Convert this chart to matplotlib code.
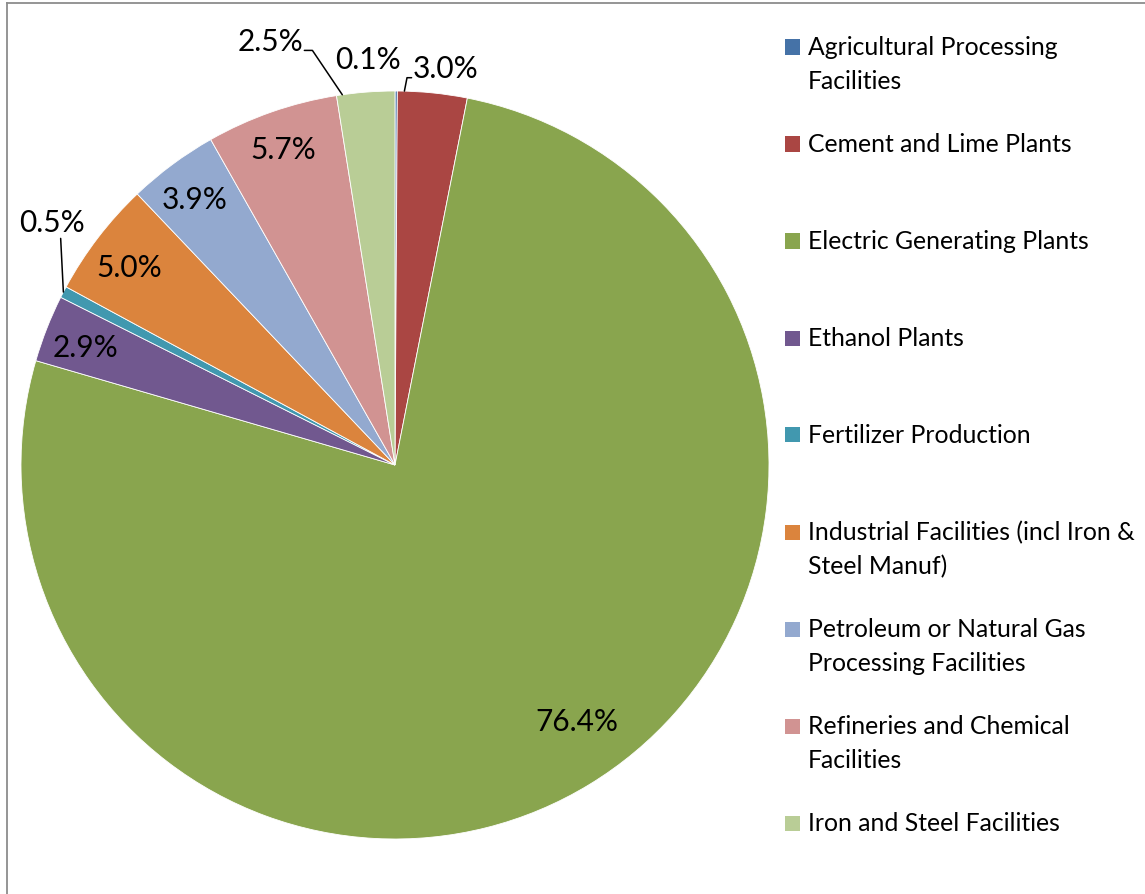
import numpy as np
import matplotlib.pyplot as plt
from matplotlib.patches import Rectangle
from matplotlib.lines import Line2D

plt.rcParams['font.family'] = ['Lato', 'DejaVu Sans']

categories = ['Agricultural Processing\nFacilities',
              'Cement and Lime Plants',
              'Electric Generating Plants',
              'Ethanol Plants',
              'Fertilizer Production',
              'Industrial Facilities (incl Iron &\nSteel Manuf)',
              'Petroleum or Natural Gas\nProcessing Facilities',
              'Refineries and Chemical\nFacilities',
              'Iron and Steel Facilities']
shares = [0.1, 3.0, 76.4, 2.9, 0.5, 5.0, 3.9, 5.7, 2.5]
colors = ['#4572A7', '#AA4643', '#89A54E', '#71588F', '#4198AF',
          '#DB843D', '#93A9CF', '#D19392', '#B9CD96']

W, H = 1145, 894
fig = plt.figure(figsize=(W / 100, H / 100), dpi=100)

# pie: centre (395, 465) px, radius 374 px
cx, cy, r = 395, 465, 374
ax = fig.add_axes([(cx - r) / W, (H - cy - r) / H, 2 * r / W, 2 * r / H])
wedges, _ = ax.pie(shares, colors=colors, startangle=90, counterclock=False,
                   wedgeprops=dict(edgecolor='white', linewidth=0.6))
ax.set_xlim(-1, 1)
ax.set_ylim(-1, 1)
ax.axis('off')

def fmt(v):
    return f'{v:.1f}%'

label_fs = 21.5
# labels inside the slices: (radial distance, angle shift in degrees)
inside = {2: (0.843, 4.0), 3: (0.886, 0.7), 5: (0.884, 0.8),
          6: (0.889, 0.6), 7: (0.894, 0.3)}
# labels outside: text position in data units, anchor fraction along the
# wedge arc, relpos on the text box, connection style
outside = {
    0: dict(xy=(-0.072, 1.083), frac=0.5, rel=None, cs=None),
    1: dict(xy=(0.136, 1.058), frac=0.9, rel=(0.0, 0.2), cs='angle,angleA=180,angleB=79,rad=0'),
    8: dict(xy=(-0.334, 1.131), frac=0.9, rel=(1.0, 0.2), cs='angle,angleA=0,angleB=124,rad=0'),
    4: dict(xy=(-0.917, 0.647), frac=0.5, rel=(0.63, 0.0), cs='arc3,rad=0'),
}

for i, w in enumerate(wedges):
    t1, t2 = w.theta1, w.theta2
    if i in inside:
        d, shift = inside[i]
        mid = np.deg2rad((t1 + t2) / 2 + shift)
        ax.text(d * np.cos(mid), d * np.sin(mid), fmt(shares[i]),
                ha='center', va='center', fontsize=label_fs)
    else:
        o = outside[i]
        a = np.deg2rad(t1 + o['frac'] * (t2 - t1))
        anchor = (np.cos(a), np.sin(a))
        if o['cs'] is None:
            ax.text(*o['xy'], fmt(shares[i]), ha='center', va='center',
                    fontsize=label_fs)
        else:
            ax.annotate(fmt(shares[i]), xy=anchor, xytext=o['xy'],
                        ha='center', va='center', fontsize=label_fs,
                        annotation_clip=False,
                        arrowprops=dict(arrowstyle='-', color='black', lw=1.1,
                                        relpos=o['rel'], shrinkA=1, shrinkB=0,
                                        patchA=None, connectionstyle=o['cs']))

# legend, one row per category
row0, row_step, line_step = 47, 97, 34
for i, (lab, c) in enumerate(zip(categories, colors)):
    yc = row0 + row_step * i
    fig.patches.append(Rectangle((785 / W, 1 - (yc + 7.5) / H), 15 / W, 15 / H,
                                 transform=fig.transFigure, facecolor=c,
                                 edgecolor='none'))
    for k, line in enumerate(lab.split('\n')):
        fig.text(808 / W, 1 - (yc + 8 + k * line_step) / H, line,
                 ha='left', va='baseline', fontsize=17.8)

# chart area frame (top and left edges visible)
fig.add_artist(Line2D([7 / W, 1], [1 - 3 / H, 1 - 3 / H], transform=fig.transFigure,
                      color='#8C8C8C', lw=1.3))
fig.add_artist(Line2D([7 / W, 7 / W], [0, 1 - 3 / H], transform=fig.transFigure,
                      color='#8C8C8C', lw=1.3))

fig.savefig('out.png', dpi=100)
